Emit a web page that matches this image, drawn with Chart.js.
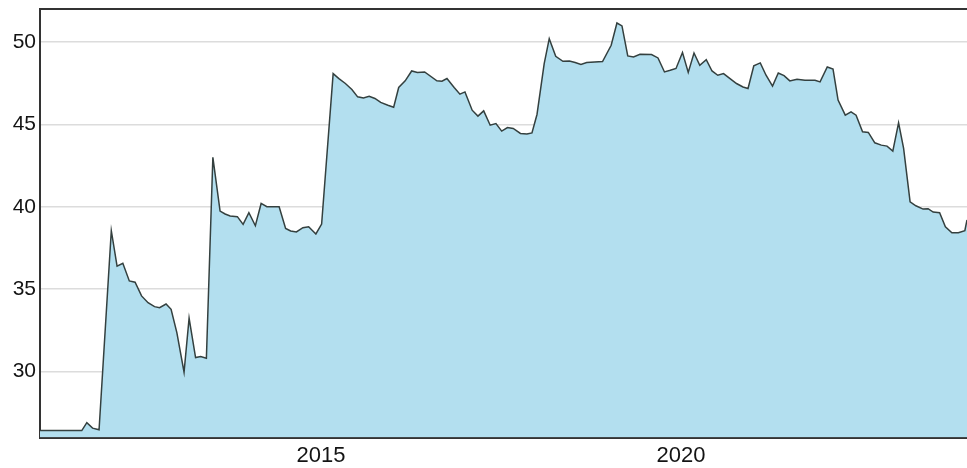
<!DOCTYPE html>
<html>
<head>
<meta charset="utf-8">
<script src="https://cdn.jsdelivr.net/npm/chart.js@4/dist/chart.umd.min.js"></script>
<style>
html,body{margin:0;padding:0;background:#fff;overflow:hidden;}
canvas{display:block;}
</style>
</head>
<body>
<canvas id="c" width="967" height="468"></canvas>
<script>
// Time (decimal years)
const years = [
2011.10,2011.68,2011.75,2011.83,2011.92,2012.09,2012.17,2012.25,2012.34,2012.42,
2012.51,2012.60,2012.69,2012.76,2012.85,2012.92,2013.00,2013.10,2013.17,2013.26,
2013.33,2013.41,2013.50,2013.60,2013.67,2013.74,2013.84,2013.92,2014.00,2014.09,
2014.17,2014.25,2014.42,2014.51,2014.58,2014.66,2014.75,2014.83,2014.93,2015.01,
2015.17,2015.25,2015.34,2015.43,2015.51,2015.59,2015.67,2015.75,2015.83,2015.93,
2016.01,2016.08,2016.17,2016.26,2016.34,2016.44,2016.61,2016.68,2016.75,2016.85,
2016.93,2017.00,2017.10,2017.18,2017.26,2017.35,2017.43,2017.51,2017.59,2017.67,
2017.77,2017.86,2017.93,2018.00,2018.10,2018.17,2018.26,2018.36,2018.45,2018.53,
2018.61,2018.69,2018.91,2019.03,2019.11,2019.18,2019.26,2019.34,2019.43,2019.59,
2019.68,2019.77,2019.85,2019.93,2020.02,2020.10,2020.18,2020.26,2020.35,2020.43,
2020.51,2020.59,2020.68,2020.77,2020.86,2020.93,2021.01,2021.10,2021.18,2021.27,
2021.35,2021.43,2021.51,2021.61,2021.72,2021.86,2021.93,2022.03,2022.11,2022.18,
2022.28,2022.36,2022.43,2022.52,2022.60,2022.69,2022.78,2022.86,2022.94,2023.02,
2023.09,2023.18,2023.26,2023.36,2023.43,2023.50,2023.59,2023.67,2023.76,2023.85,
2023.94,2023.97
];
const values = [
26.42,26.42,26.90,26.57,26.47,38.55,36.40,36.57,35.50,35.42,
34.59,34.18,33.94,33.88,34.10,33.78,32.36,29.96,33.24,30.85,
30.91,30.81,43.00,39.74,39.56,39.44,39.40,38.93,39.64,38.85,
40.20,40.00,40.00,38.69,38.53,38.47,38.73,38.79,38.35,38.95,
48.08,47.78,47.48,47.12,46.67,46.60,46.70,46.57,46.33,46.16,
46.04,47.24,47.64,48.24,48.15,48.18,47.64,47.62,47.78,47.24,
46.83,46.97,45.86,45.50,45.82,44.95,45.05,44.59,44.81,44.75,
44.45,44.41,44.48,45.60,48.69,50.20,49.13,48.83,48.85,48.75,
48.63,48.75,48.81,49.80,51.15,50.97,49.15,49.09,49.25,49.24,
49.03,48.18,48.28,48.39,49.36,48.15,49.33,48.59,48.93,48.24,
47.98,48.08,47.78,47.48,47.27,47.18,48.55,48.73,47.98,47.32,
48.12,47.96,47.64,47.74,47.68,47.68,47.58,48.48,48.35,46.47,
45.56,45.76,45.56,44.55,44.51,43.88,43.74,43.68,43.38,45.09,
43.54,40.30,40.06,39.86,39.88,39.68,39.64,38.79,38.42,38.42,
38.55,39.20
];
const xTicks = [2015, 2020];
const yTicks = [30, 35, 40, 45, 50];

const points = years.map((x, i) => ({x: x, y: values[i]}));

const topBorder = {
  id: 'topBorder',
  afterDraw(chart) {
    const {ctx, chartArea} = chart;
    ctx.save();
    ctx.strokeStyle = '#333';
    ctx.lineWidth = 2;
    ctx.beginPath();
    ctx.moveTo(chartArea.left, chartArea.top);
    ctx.lineTo(chartArea.right, chartArea.top);
    ctx.stroke();
    ctx.restore();
  }
};

new Chart(document.getElementById('c'), {
  type: 'line',
  data: {
    datasets: [{
      data: points,
      borderColor: '#34403f',
      borderWidth: 1.5,
      backgroundColor: 'rgb(179,223,239)',
      fill: 'start',
      tension: 0,
      pointRadius: 0
    }]
  },
  options: {
    responsive: false,
    animation: false,
    devicePixelRatio: 1,
    layout: {padding: {top: 9, left: 0, right: 0, bottom: 0}},
    plugins: {legend: {display: false}, tooltip: {enabled: false}},
    scales: {
      x: {
        type: 'linear',
        min: 2011.10,
        max: 2023.97,
        afterBuildTicks: s => { s.ticks = xTicks.map(v => ({value: v})); },
        afterFit: s => { s.height = 30.5; s.paddingLeft = 0; s.paddingRight = 0; },
        ticks: {
          callback: v => String(v),
          color: '#141414',
          padding: 5,
          maxRotation: 0,
          font: {family: '"Liberation Sans", Arial, sans-serif', size: 22}
        },
        grid: {display: false, drawTicks: false},
        border: {display: true, color: '#333', width: 2}
      },
      y: {
        min: 26,
        max: 52,
        afterBuildTicks: s => { s.ticks = yTicks.map(v => ({value: v})); },
        afterFit: s => { s.width = 40; s.paddingTop = 0; s.paddingBottom = 0; },
        ticks: {
          color: '#141414',
          padding: 4,
          font: {family: '"Liberation Sans", Arial, sans-serif', size: 21}
        },
        grid: {color: '#dcdcdc', lineWidth: 1.5, drawTicks: false},
        border: {display: true, color: '#333', width: 2}
      }
    }
  },
  plugins: [topBorder]
});
</script>
</body>
</html>
